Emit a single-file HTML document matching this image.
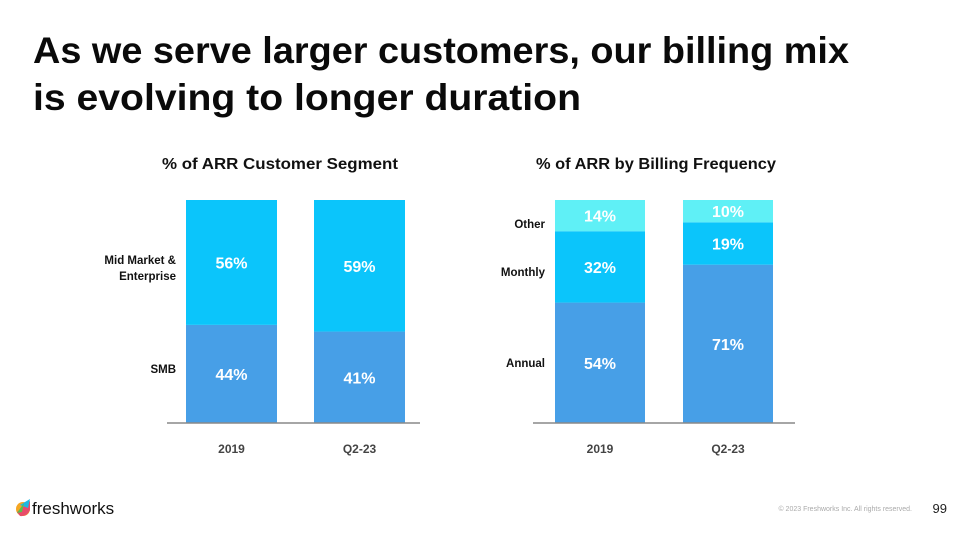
<!DOCTYPE html>
<html><head><meta charset="utf-8"><style>
html,body{margin:0;padding:0;background:#fff;}
svg{display:block;font-family:"Liberation Sans",sans-serif;}
</style></head><body>
<svg id="s" width="960" height="540" viewBox="0 0 960 540">
<text x="33" y="63" font-size="37" font-weight="bold" fill="#0a0a0a" textLength="816" lengthAdjust="spacingAndGlyphs">As we serve larger customers, our billing mix</text>
<text x="33" y="110" font-size="37" font-weight="bold" fill="#0a0a0a" textLength="548" lengthAdjust="spacingAndGlyphs">is evolving to longer duration</text>
<text x="280" y="169" font-size="16" font-weight="bold" text-anchor="middle" fill="#111" textLength="236" lengthAdjust="spacingAndGlyphs">% of ARR Customer Segment</text>
<text x="656" y="169" font-size="16" font-weight="bold" text-anchor="middle" fill="#111" textLength="240" lengthAdjust="spacingAndGlyphs">% of ARR by Billing Frequency</text>
<g id="left"></g>
<g id="right"></g>
<g>
<circle cx="23" cy="509" r="7" fill="#f5a623"/><path d="M17 512 L30 501 L30 510 Q27 517 20 516Z" fill="#e84b6a"/><path d="M20 505 L30 499 L28 508Z" fill="#1fb8e0"/><path d="M17 513 L24 503 L22 512Z" fill="#5bbf4a"/>
<text x="32" y="514" font-size="17" fill="#111">freshworks</text></g>
<text x="912" y="511" font-size="7" fill="#aaa" text-anchor="end">© 2023 Freshworks Inc. All rights reserved.</text>
<text x="947" y="513" font-size="13" fill="#222" text-anchor="end">99</text>
</svg>
<script>
const categories=["2019","Q2-23"];
const segSMB=[44,41];
const segMME=[56,59];
const billAnnual=[54,71];
const billMonthly=[32,19];
const billOther=[14,10];
const NS="http://www.w3.org/2000/svg";
const top0=200,base=423,H=base-top0;
function y(v){return base-v/100*H;}
function el(t,a,p){const e=document.createElementNS(NS,t);for(const k in a)e.setAttribute(k,a[k]);p.appendChild(e);return e;}
function chart(g,xs,w,axis,series,labels,lx){
  xs.forEach((x,i)=>{
    let acc=0;
    series.forEach(s=>{
      const v=s.vals[i];
      const r=el('rect',{x:x,y:y(acc+v),width:w,height:y(acc)-y(acc+v),fill:s.color},g);
      
      
      const t=el('text',{x:x+w/2,y:(y(acc)+y(acc+v))/2+6,'font-size':16,'font-weight':'bold',fill:'#fff','text-anchor':'middle'},g);
      t.textContent=v+'%';
      
      
      acc+=v;
    });
    const c=el('text',{x:x+w/2,y:453,'font-size':12,'font-weight':'bold',fill:'#444','text-anchor':'middle'},g);
    c.textContent=categories[i];
    
    
  });
  const a=el('line',{x1:axis[0],x2:axis[1],y1:base,y2:base,stroke:'#888','stroke-width':1.5},g);
  
  
  labels.forEach(l=>{l.lines.forEach((ln,j)=>{
    const t=el('text',{x:lx,y:l.y+j*16,'font-size':11.5,'font-weight':'bold',fill:'#111','text-anchor':'end'},g);
    t.textContent=ln;
    
    
  });});
}
chart(document.getElementById('left'),[186,314],91,[167,420],
 [{name:'smb',vals:segSMB,color:'#479fe7'},{name:'mid-market',vals:segMME,color:'#0bc5fb'}],
 [{y:264,lines:['Mid Market &','Enterprise']},{y:373,lines:['SMB']}],176);
chart(document.getElementById('right'),[555,683],90,[533,795],
 [{name:'annual',vals:billAnnual,color:'#479fe7'},{name:'monthly',vals:billMonthly,color:'#0bc5fb'},{name:'other',vals:billOther,color:'#5ff0f6'}],
 [{y:228,lines:['Other']},{y:276,lines:['Monthly']},{y:367,lines:['Annual']}],545);
</script>
</body></html>
